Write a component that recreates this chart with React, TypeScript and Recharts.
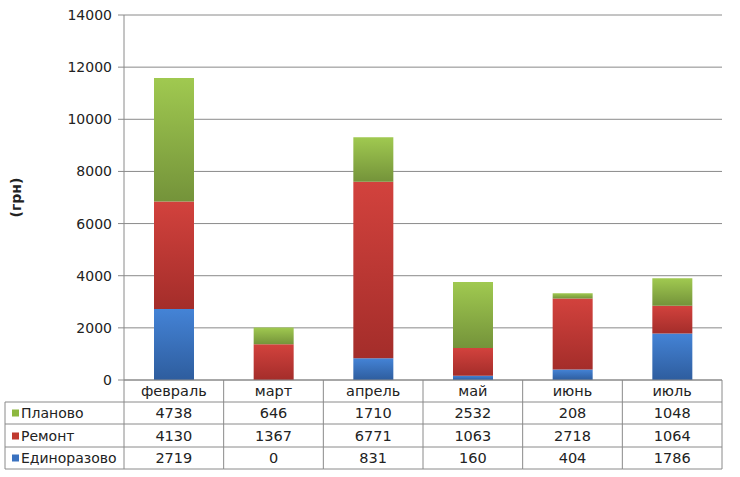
import { BarChart, Bar, XAxis, YAxis, CartesianGrid } from 'recharts';

const months = ['февраль', 'март', 'апрель', 'май', 'июнь', 'июль'];
const planovo = [4738, 646, 1710, 2532, 208, 1048];
const remont = [4130, 1367, 6771, 1063, 2718, 1064];
const edinorazovo = [2719, 0, 831, 160, 404, 1786];
const yTicks = [0, 2000, 4000, 6000, 8000, 10000, 12000, 14000];

const series = [
  { key: 'planovo', name: 'Планово', values: planovo, swatch: '#8DB83F' },
  { key: 'remont', name: 'Ремонт', values: remont, swatch: '#C0392F' },
  { key: 'edinorazovo', name: 'Единоразово', values: edinorazovo, swatch: '#3A72C0' },
];

const data = months.map((m, i) => ({
  month: m,
  planovo: planovo[i],
  remont: remont[i],
  edinorazovo: edinorazovo[i],
}));

const W = 740;
const H = 477;
const Y_AXIS_W = 60;
const margin = { top: 15, right: 18, left: 124 - Y_AXIS_W, bottom: 0 };
const X_AXIS_H = 97;
const BAND = (W - 124 - margin.right) / months.length;
const GRID = '#8a8a8a';
const FONT = 'DejaVu Sans, Verdana, sans-serif';
const TABLE_FS = 14.5;

// row boundaries and text centres below the x axis line
const ROW_LINES = [22, 44, 67, 89];
const ROW_MID = [33, 56, 78];

function TableTick(props: any) {
  const { x, y, payload } = props;
  const i = payload.index;
  const left = x - BAND / 2;
  const right = x + BAND / 2;
  return (
    <g>
      <line x1={right} y1={y} x2={right} y2={y + 89} stroke={GRID} />
      {i === 0 && <line x1={left} y1={y} x2={left} y2={y + 89} stroke={GRID} />}
      {ROW_LINES.map((d) => (
        <line key={d} x1={left} y1={y + d} x2={right} y2={y + d} stroke={GRID} />
      ))}
      <text x={x} y={y + 11} textAnchor="middle" dominantBaseline="central" fontSize={TABLE_FS} fill="#222" fontFamily={FONT}>
        {payload.value}
      </text>
      {series.map((s, r) => (
        <text key={s.key} x={x} y={y + ROW_MID[r]} textAnchor="middle" dominantBaseline="central" fontSize={TABLE_FS} fill="#222" fontFamily={FONT}>
          {s.values[i]}
        </text>
      ))}
      {i === 0 && (
        <g>
          <line x1={5} y1={y + 22} x2={5} y2={y + 89} stroke={GRID} />
          {ROW_LINES.map((d) => (
            <line key={d} x1={5} y1={y + d} x2={left} y2={y + d} stroke={GRID} />
          ))}
          {series.map((s, r) => (
            <g key={s.key}>
              <rect x={12} y={y + ROW_MID[r] - 3.5} width={7} height={7} fill={s.swatch} />
              <text x={21} y={y + ROW_MID[r]} dominantBaseline="central" fontSize={14} fill="#222" fontFamily={FONT}>
                {s.name}
              </text>
            </g>
          ))}
        </g>
      )}
    </g>
  );
}

function YLabel(props: any) {
  const { viewBox } = props;
  const cy = viewBox.y + viewBox.height / 2;
  return (
    <text x={16} y={cy} transform={`rotate(-90 16 ${cy})`} textAnchor="middle" dominantBaseline="central" fontSize={14} fontWeight="bold" fill="#222" fontFamily={FONT}>
      (грн)
    </text>
  );
}

export default function App() {
  return (
    <div style={{ position: 'absolute', left: 0, top: 0, width: W, height: H, background: '#fff' }}>
      <BarChart width={W} height={H} data={data} margin={margin} barSize={40}>
        <defs>
          <linearGradient id="gBlue" x1="0" y1="0" x2="0" y2="1">
            <stop offset="0%" stopColor="#4483D6" />
            <stop offset="100%" stopColor="#2E5D9E" />
          </linearGradient>
          <linearGradient id="gRed" x1="0" y1="0" x2="0" y2="1">
            <stop offset="0%" stopColor="#D2423D" />
            <stop offset="100%" stopColor="#A42D2A" />
          </linearGradient>
          <linearGradient id="gGreen" x1="0" y1="0" x2="0" y2="1">
            <stop offset="0%" stopColor="#A0C950" />
            <stop offset="100%" stopColor="#74933A" />
          </linearGradient>
        </defs>
        <CartesianGrid vertical={false} stroke={GRID} />
        <XAxis
          dataKey="month"
          height={X_AXIS_H}
          axisLine={{ stroke: GRID }}
          tickLine={false}
          tickSize={0}
          tickMargin={0}
          interval={0}
          tick={<TableTick />}
        />
        <YAxis
          width={Y_AXIS_W}
          domain={[0, 14000]}
          ticks={yTicks}
          interval={0}
          axisLine={{ stroke: GRID }}
          tickLine={{ stroke: GRID }}
          tickSize={6}
          tickMargin={6}
          tick={{ fontSize: 14, fill: '#222', fontFamily: FONT }}
          label={<YLabel />}
        />
        <Bar dataKey="edinorazovo" stackId="a" fill="url(#gBlue)" isAnimationActive={false} />
        <Bar dataKey="remont" stackId="a" fill="url(#gRed)" isAnimationActive={false} />
        <Bar dataKey="planovo" stackId="a" fill="url(#gGreen)" isAnimationActive={false} />
      </BarChart>
    </div>
  );
}
